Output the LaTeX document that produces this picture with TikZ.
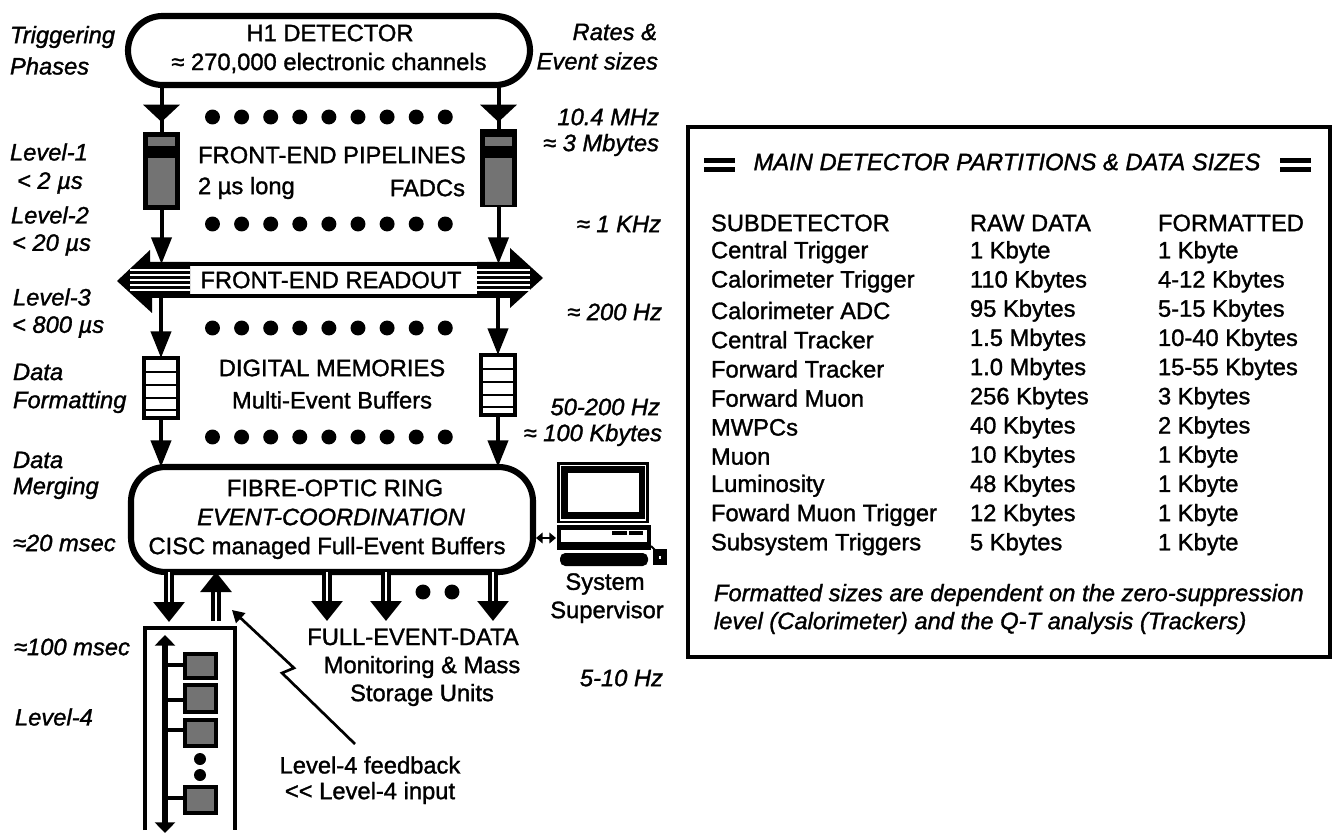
\documentclass[tikz,border=0pt]{standalone}
\usepackage{fontspec}
\setmainfont{Liberation Sans}[RawFeature={embolden=1.3}]
\usetikzlibrary{arrows.meta,calc}
\tikzset{
 lab/.style={inner sep=0pt,outer sep=0pt,font=\fontsize{17.8}{20}\selectfont},
 leftlab/.style={lab,anchor=west,font=\fontsize{17.8}{20}\selectfont\itshape},
 rightlab/.style={lab,anchor=east,font=\fontsize{17.8}{20}\selectfont\itshape},
 rowlab/.style={lab,anchor=west},
 ringbox/.style={draw,line width=4.6pt,rounded corners=26pt,minimum width=301.5pt,inner sep=0pt,outer sep=0pt},
 pipebox/.style={fill=black,minimum width=27.75pt,minimum height=58.5pt,inner sep=0pt,outer sep=0pt},
 membox/.style={draw,line width=3pt,fill=white,minimum width=25pt,minimum height=45pt,inner sep=0pt,outer sep=0pt},
 widearrow/.style={line width=3pt,-{Triangle[length=13pt,width=27pt]}},
 longarrow/.style={line width=3pt,-{Triangle[length=20pt,width=15pt]}},
 hollowarrow/.style={line width=3.2pt,double,double distance=1.4pt,-{Triangle[length=15pt,width=23pt]}},
 modbox/.style={fill=black,minimum width=26pt,inner sep=0pt,outer sep=0pt},
}
\begin{document}
\begin{tikzpicture}[x=0.75pt,y=-0.75pt]
 \useasboundingbox (0,0) rectangle (1333,837);

 % left column
 \foreach \rowy/\rowx/\txt [count=\n] in {37/10/Triggering,66/10/Phases,152/10/Level-1,183/17/{< 2 µs},215/11/Level-2,245/12/{< 20 µs},297/13/Level-3,327/12/{< 800 µs},372/13/Data,402/13/Formatting,460/13/Data,488/13/Merging,543/13/≈20 msec,647/14/≈100 msec,717/15/Level-4}
  \node[leftlab] (phase\n) at (\rowx,\rowy) {\txt};

 % right column
 \foreach \rowy/\rowx/\txt [count=\n] in {32/657/Rates \&,61/658/Event sizes,117/659/10.4 MHz,145/659/≈ 3 Mbytes,224/661/≈ 1 KHz,312/662/≈ 200 Hz,407/660/50-200 Hz,435/662/≈ 100 Kbytes,678/663/5-10 Hz}
  \node[rightlab] (rate\n) at (\rowx,\rowy) {\txt};

 % main chain
 \node[ringbox,minimum height=51.75pt] (h1) at (329,50.5) {};
 \node[lab] (h1a) at (330,33) {H1 DETECTOR};
 \node[lab] (h1b) at (329,63) {≈ 270,000 electronic channels};

 \foreach \rowy in {117,224,328,437}
  \foreach \n in {0,...,8}
   \fill (212.5+29.1*\n,\rowy) circle (5.6pt);

 \node[pipebox] (pipeL) at (161.5,171) {};
 \node[pipebox] (pipeR) at (498.5,168.5) {};
 \foreach \px in {148,485} {
  \fill[black!55] (\px,137) rectangle (\px+27,146);
  \fill[black!55] (\px,158) rectangle (\px+27,205);
 }
 \node[lab] (pipetxt) at (332,155) {FRONT-END PIPELINES};
 \node[lab,anchor=west] (pipelong) at (198,188) {2 µs long};
 \node[lab,anchor=east] (pipefadc) at (465,188) {FADCs};

 % readout bar with its two striped heads
 \coordinate (rdtop) at (331,264);
 \coordinate (rdbot) at (331,296);
 \fill (190,262) -- (150,262) -- (150,250) -- (117,281) -- (152,313) -- (152,298) -- (190,298) -- cycle;
 \fill (477,262) -- (510,262) -- (510,248) -- (543,278) -- (510,308) -- (510,298) -- (477,298) -- cycle;
 \foreach \rowy in {270,275,280,285,290} {
  \draw[white,line width=1pt] (130,\rowy) -- (190,\rowy);
  \draw[white,line width=1pt] (477,\rowy) -- (530,\rowy);
 }
 \draw[line width=3pt] (190,264) -- (477,264);
 \draw[line width=3pt] (190,296) -- (477,296);
 \node[lab] (rdtxt) at (331,280) {FRONT-END READOUT};

 \node[membox] (memL) at (161,388) {};
 \node[membox] (memR) at (498,385) {};
 \foreach \rowy in {372,385,398,410}
  \draw[line width=2pt] (143,\rowy) -- (179,\rowy);
 \foreach \rowy in {369,382,395,407}
  \draw[line width=2pt] (480,\rowy) -- (516,\rowy);
 \node[lab] (memtxt) at (332,368) {DIGITAL MEMORIES};
 \node[lab] (membuf) at (332,400) {Multi-Event Buffers};

 \node[ringbox,minimum height=78.75pt] (ring) at (332,519.5) {};
 \node[lab] (ringa) at (335,488) {FIBRE-OPTIC RING};
 \node[lab,font=\fontsize{17.8}{20}\selectfont\itshape] (ringb) at (331,517) {EVENT-COORDINATION};
 \node[lab] (ringc) at (327,548) {CISC managed Full-Event Buffers};

 % arrows along the chain
 \draw[line width=3pt] (pipeL.north |- h1.south) -- (pipeL.north);
 \draw[line width=3pt] (pipeR.north |- h1.south) -- (pipeR.north);
 \draw[widearrow] (pipeL.north |- h1.south) ++(0,10) -- ++(0,27);
 \draw[widearrow] (pipeR.north |- h1.south) ++(0,10) -- ++(0,27);
 \draw[longarrow] (pipeL.south) -- (pipeL.south |- rdtop);
 \draw[longarrow] (pipeR.south) -- (pipeR.south |- rdtop);
 \draw[longarrow] (memL.north |- rdbot) -- (memL.north);
 \draw[longarrow] (memR.north |- rdbot) -- (memR.north);
 \draw[longarrow] (memL.south) -- (memL.south |- ring.north);
 \draw[longarrow] (memR.south) -- (memR.south |- ring.north);

 % outputs below the ring
 \node[lab] (fulla) at (413,637) {FULL-EVENT-DATA};
 \node[lab] (fullb) at (422,667) {Monitoring \& Mass};
 \node[lab] (fullc) at (422,695) {Storage Units};
 \coordinate (down1) at (169,622);
 \coordinate (up1) at (216,621);
 \foreach \px/\nm in {327/out1,386/out2,493/out3}
  \coordinate (\nm) at (\px,621);
 \draw[hollowarrow] (down1 |- ring.south) -- (down1);
 \draw[hollowarrow] (up1) -- (up1 |- ring.south);
 \draw[hollowarrow] (out1 |- ring.south) -- (out1);
 \draw[hollowarrow] (out2 |- ring.south) -- (out2);
 \draw[hollowarrow] (out3 |- ring.south) -- (out3);
 \fill (423,592) circle (5.6pt);
 \fill (452,592) circle (5.6pt);

 % level-4 farm
 \draw[line width=3pt] (145,830) -- (145,628) -- (235,628) -- (235,830);
 \draw[line width=4pt,{Triangle[length=8pt,width=15pt]}-{Triangle[length=8pt,width=15pt]}] (165,635) -- (165,833);
 \foreach \rowy/\boxh/\stub [count=\n] in {666/21/665,698.5/23/700,733/22.5/730,800/22.5/798} {
  \node[modbox,minimum height=\boxh pt] (farm\n) at (200.5,\rowy) {};
  \fill[black!55] ($(farm\n.north west)+(4,4)$) rectangle ($(farm\n.south east)+(-4,-4)$);
  \coordinate (stub\n) at (165,\stub);
  \draw[line width=3pt] (stub\n) -- (stub\n -| farm\n.west);
 }
 \fill (200,759) circle (4.5pt);
 \fill (200,775) circle (4.5pt);

 % feedback label and zigzag
 \node[lab] (fb1) at (370,765) {Level-4 feedback};
 \node[lab] (fb2) at (370,793) {<{}< Level-4 input};
 \coordinate (fbstart) at (355,744);
 \draw[line width=2pt,-{Triangle[length=9pt,width=10pt]}] (fbstart) -- (282,673) -- (294,668) -- (232,610);

 % system supervisor
 \fill (557,462) rectangle (649,523);
 \draw[white,line width=0.8pt] (560.5,465.5) rectangle (645.5,520);
 \fill[white] (568,473) rectangle (639,512);
 \fill (557,525) rectangle (651,550);
 \fill[white] (561,530) rectangle (647,542);
 \fill (612,531) rectangle (627,535);
 \fill (629,531) rectangle (643,535);
 \fill[rounded corners=4pt] (560,553) rectangle (648,566);
 \fill (653,549) rectangle (667,565);
 \fill[white] (659,556) rectangle (661,559);
 \draw[line width=1.5pt] (651,546) -- (655,550);
 \coordinate (pcport) at (556,538);
 \draw[line width=2pt,{Triangle[length=5pt,width=8pt]}-{Triangle[length=5pt,width=8pt]}] (ring.east |- pcport) ++(3,0) -- (pcport);
 \node[lab] (sys1) at (605,584) {System};
 \node[lab] (sys2) at (607,612) {Supervisor};

 % partition table
 \draw[line width=3pt] (688,127) rectangle (1330,657);
 \node[lab,font=\fontsize{17.8}{20}\selectfont\itshape] (tabtitle) at (1007,162) {MAIN DETECTOR PARTITIONS \& DATA SIZES};
 \foreach \px in {704,1280} {
  \draw[line width=3.5pt] (\px,160.5) -- (\px+31,160.5);
  \draw[line width=3.5pt] (\px,169.5) -- (\px+31,169.5);
 }
 \foreach \sub/\raw/\fmt [count=\n from 0] in {SUBDETECTOR/RAW DATA/FORMATTED,Central Trigger/1 Kbyte/1 Kbyte,Calorimeter Trigger/110 Kbytes/4-12 Kbytes,Calorimeter ADC/95 Kbytes/5-15 Kbytes,Central Tracker/1.5 Mbytes/10-40 Kbytes,Forward Tracker/1.0 Mbytes/15-55 Kbytes,Forward Muon/256 Kbytes/3 Kbytes,MWPCs/40 Kbytes/2 Kbytes,Muon/10 Kbytes/1 Kbyte,Luminosity/48 Kbytes/1 Kbyte,Foward Muon Trigger/12 Kbytes/1 Kbyte,Subsystem Triggers/5 Kbytes/1 Kbyte} {
  \node[rowlab] (sub\n) at (711,223+29.2*\n) {\sub};
  \node[rowlab] (raw\n) at (970,223+29.2*\n) {\raw};
  \node[rowlab] (fmt\n) at (1158,223+29.2*\n) {\fmt};
 }
 \node[leftlab] (note1) at (714,595) {Formatted sizes are dependent on the zero-suppression};
 \node[leftlab] (note2) at (714,623) {level (Calorimeter) and the Q-T analysis (Trackers)};
\end{tikzpicture}
\end{document}
